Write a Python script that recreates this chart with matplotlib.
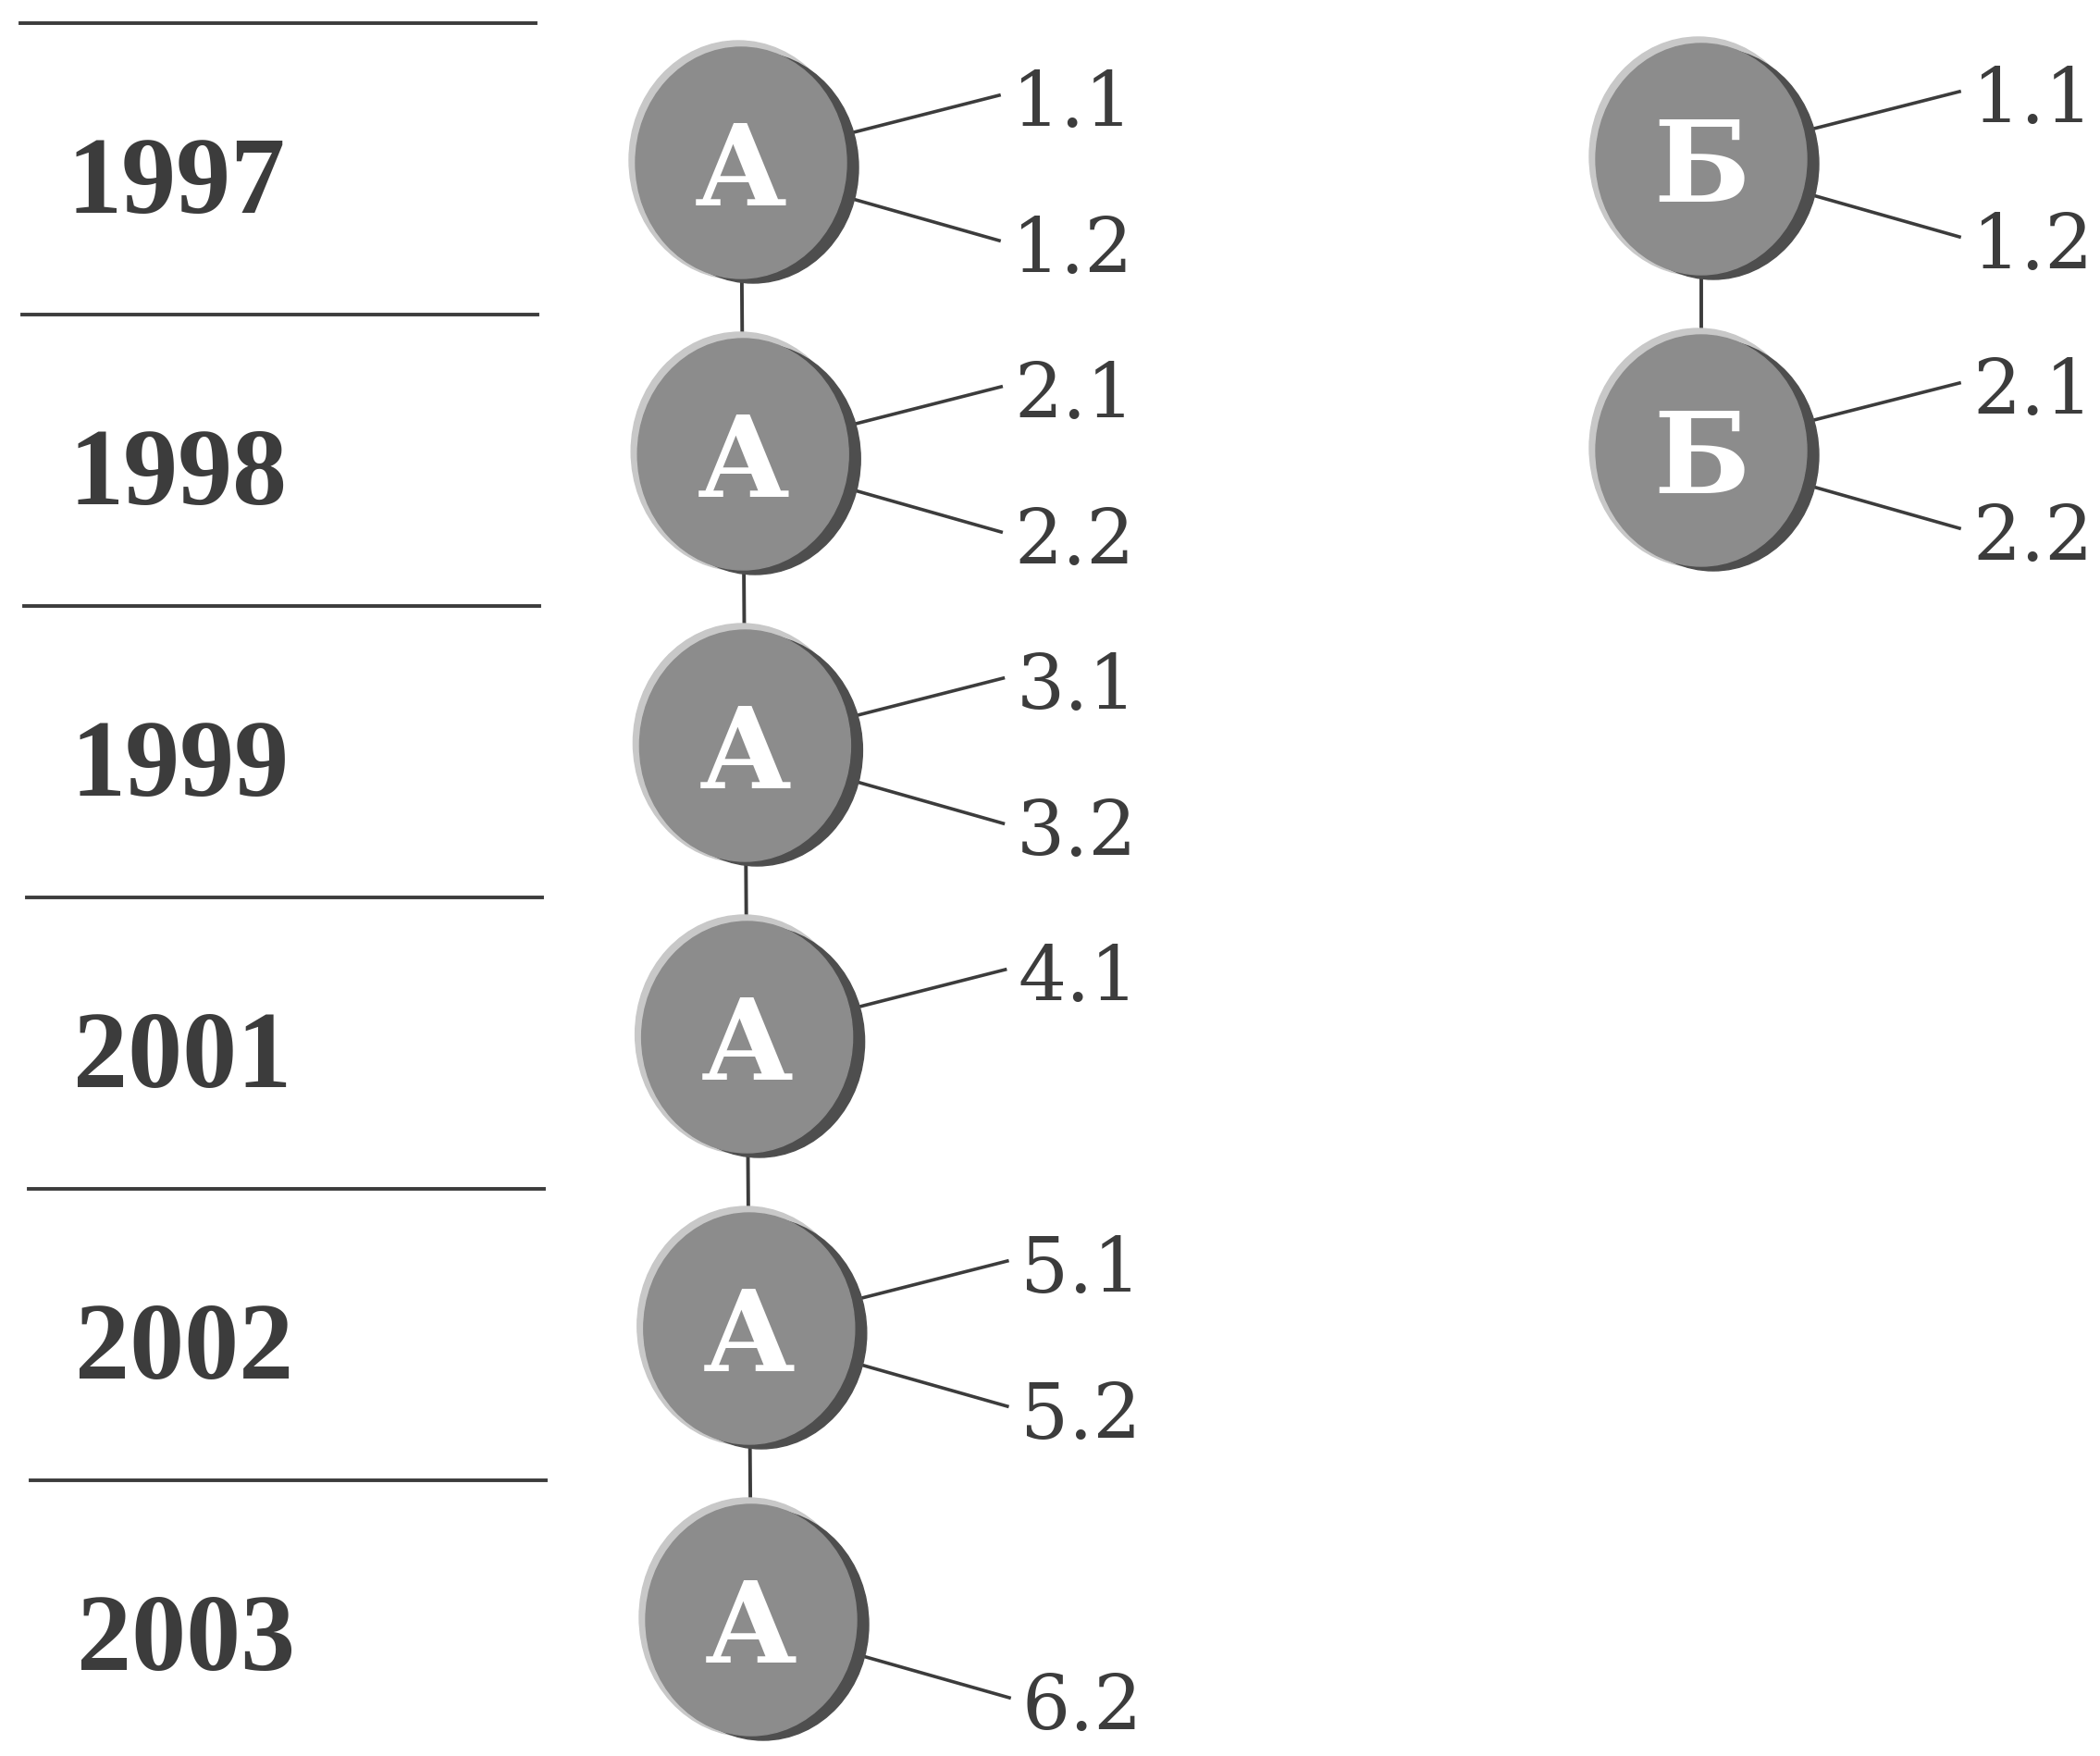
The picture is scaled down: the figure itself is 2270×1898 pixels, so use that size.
import matplotlib.pyplot as plt
from matplotlib.patches import Ellipse

# timeline data
years = ['1997', '1998', '1999', '2001', '2002', '2003']
a_upper = ['1.1', '2.1', '3.1', '4.1', '5.1', '']
a_lower = ['1.2', '2.2', '3.2', '', '5.2', '6.2']
b_upper = ['1.1', '2.1']
b_lower = ['1.2', '2.2']

ink = '#3c3c3c'
disk = '#8c8c8c'
shade = '#4e4e4e'

W, H = 2270, 1899
fig = plt.figure(figsize=(W / 100, H / 100), dpi=100)
ax = fig.add_axes([0, 0, 1, 1])
ax.set_xlim(0, W)
ax.set_ylim(H, 0)
ax.axis('off')

y0, step = 177, 315
dw, dh = 228, 250  # disk is a touch taller than wide (scan)
skew = 2.2  # the page is slightly rotated


def node(cx, cy, letter, upper, lower):
    # soft halo, shadow crescent, disk
    ax.add_patch(Ellipse((cx - 3, cy - 3), dw + 8, dh + 8, color='#c8c8c8', zorder=3))
    ax.add_patch(Ellipse((cx + 13, cy + 5), dw, dh, color=shade, zorder=4))
    ax.add_patch(Ellipse((cx, cy), dw, dh, color=disk, zorder=5))
    ax.text(cx, cy + 45, letter, ha='center', va='baseline', color='white',
            fontsize=88, fontweight='bold', family='DejaVu Serif', zorder=6)
    if upper:
        ax.plot([cx + 110, cx + 279], [cy - 30, cy - 73], color=ink, lw=2.6, zorder=2)
        ax.text(cx + 293, cy - 40, upper, ha='left', va='baseline', color=ink,
                fontsize=59, family='DejaVu Serif')
    if lower:
        ax.plot([cx + 110, cx + 279], [cy + 36, cy + 84], color=ink, lw=2.6, zorder=2)
        ax.text(cx + 293, cy + 118, lower, ha='left', va='baseline', color=ink,
                fontsize=59, family='DejaVu Serif')


for i, year in enumerate(years):
    cy = y0 + i * step
    dx = i * skew
    # separator above each row
    ax.plot([22 + dx, 579 + dx], [cy - 151, cy - 151], color=ink, lw=2.8)
    ax.text(72 + dx, cy + 53, year, ha='left', va='baseline', color=ink,
            fontsize=85, fontweight='bold', family='Liberation Serif')
    cx = 801 + dx
    if i < len(years) - 1:
        ax.plot([cx, cx + skew], [cy, cy + step], color=ink, lw=2.8, zorder=1)
    node(cx, cy, 'А', a_upper[i], a_lower[i])

for i in range(len(b_upper)):
    cy = y0 - 4 + i * step
    cx = 1839
    if i < len(b_upper) - 1:
        ax.plot([cx, cx], [cy, cy + step], color=ink, lw=2.8, zorder=1)
    node(cx, cy, 'Б', b_upper[i], b_lower[i])

fig.savefig('out.png', dpi=100, facecolor='white')
